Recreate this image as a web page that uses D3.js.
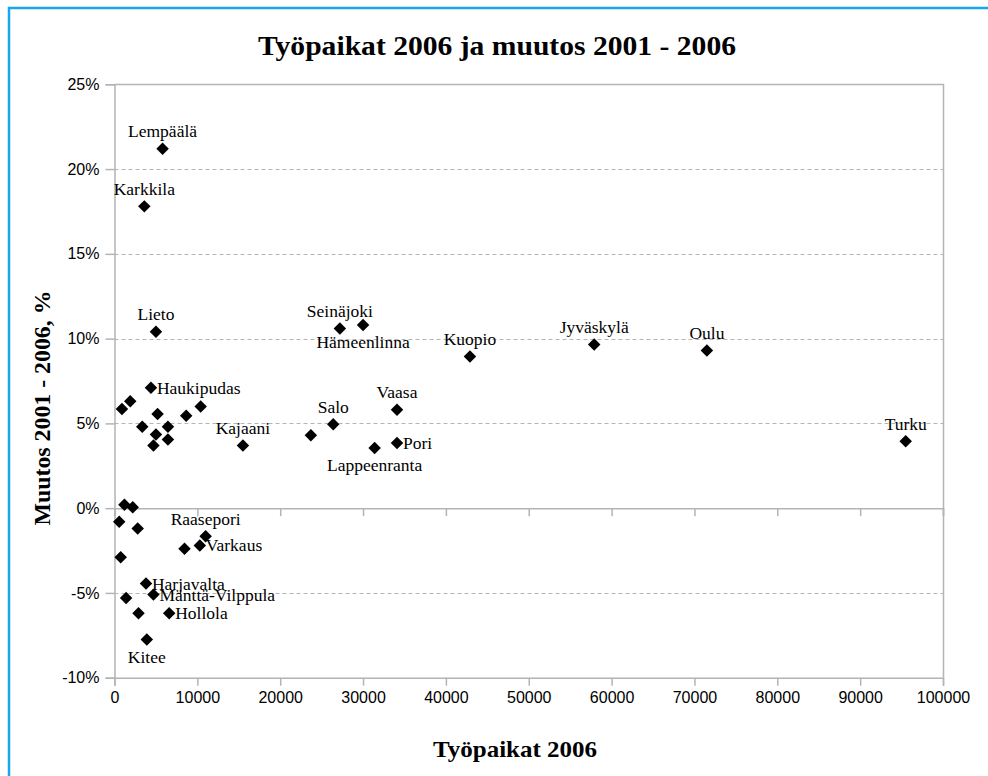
<!DOCTYPE html>
<html>
<head>
<meta charset="utf-8">
<script src="https://cdn.jsdelivr.net/npm/d3@7"></script>
<style>
  body { margin: 0; background: #fff; }
  .tick-label { font-family: "Liberation Sans", Arial, sans-serif; font-size: 16px; fill: #000; }
  .pt-label { font-family: "Liberation Serif", "Times New Roman", serif; font-size: 17.5px; fill: #000; }
  .ttl { font-family: "Liberation Serif", "Times New Roman", serif; font-weight: bold; fill: #000; }
</style>
</head>
<body>
<script>
var w = 988, h = 776;

// municipalities, jobs in 2006 and change 2001-2006 (%)
var names = ["Lempäälä", "Karkkila", "Lieto", "Seinäjoki", "Hämeenlinna", "Kuopio", "Jyväskylä", "Oulu",
  "Haukipudas", "Vaasa", "Salo", "Kajaani", "Pori", "Lappeenranta", "Turku",
  "Raasepori", "Varkaus", "Harjavalta", "Mänttä-Vilppula", "Hollola", "Kitee",
  "", "", "", "", "", "", "", "", "", "", "",
  "", "", "", "", "", "", "", ""];
var jobs = [5800, 3600, 5000, 27200, 30000, 42900, 57900, 71500,
  4400, 34100, 26400, 15500, 34100, 31400, 95500,
  11000, 10300, 3800, 4700, 6600, 3900,
  900, 1900, 5200, 3350, 6450, 5000, 6450, 4700, 8650, 10400, 23700,
  1200, 2200, 570, 2800, 8450, 750, 1400, 2900];
var change = [21.2, 17.8, 10.4, 10.6, 10.8, 8.95, 9.65, 9.3,
  7.1, 5.8, 4.95, 3.7, 3.85, 3.55, 3.95,
  -1.65, -2.2, -4.45, -5.1, -6.2, -7.75,
  5.85, 6.3, 5.55, 4.8, 4.8, 4.35, 4.05, 3.7, 5.45, 6.0, 4.3,
  0.2, 0.05, -0.8, -1.2, -2.4, -2.9, -5.3, -6.2];

var xTicks = [0, 10000, 20000, 30000, 40000, 50000, 60000, 70000, 80000, 90000, 100000];
var yTicks = [-10, -5, 0, 5, 10, 15, 20, 25];

// where each label sits relative to its point
var labelPos = {
  "Hämeenlinna": "below", "Lappeenranta": "below", "Kitee": "below",
  "Haukipudas": "right", "Pori": "right", "Varkaus": "right",
  "Harjavalta": "right", "Mänttä-Vilppula": "right", "Hollola": "right"
};

var data = names.map(function(n, i) {
  return { name: n, jobs: jobs[i], change: change[i] };
});

var svg = d3.select("body")
  .append("svg")
  .attr("width", w)
  .attr("height", h);

// blue frame
svg.append("rect")
  .attr("x", 9)
  .attr("y", 8)
  .attr("width", 1000)
  .attr("height", 800)
  .style("fill", "none")
  .style("stroke", "#19a7ec")
  .style("stroke-width", 2.5);

var x = d3.scaleLinear()
  .domain([0, 100000])
  .range([114.5, 943]);

var y = d3.scaleLinear()
  .domain([-10, 25])
  .range([677.7, 84.3]);

var grey = "#b4b4b4";

// dashed gridlines
svg.selectAll(".grid")
  .data(yTicks.filter(function(d) { return d != -10 && d != 0 && d != 25; }))
  .enter()
  .append("line")
  .attr("class", "grid")
  .attr("x1", x(0))
  .attr("x2", x(100000))
  .attr("y1", function(d) { return Math.round(y(d)) + 0.5; })
  .attr("y2", function(d) { return Math.round(y(d)) + 0.5; })
  .style("stroke", grey)
  .style("stroke-dasharray", "4,3");

// plot frame: top and right
svg.append("path")
  .attr("d", "M" + x(0) + "," + (Math.round(y(25)) + 0.5) + "H" + (Math.round(x(100000)) + 0.5) + "V" + y(-10))
  .style("fill", "none")
  .style("stroke", grey)
  .style("stroke-width", 1.5);

// left axis
var yAxis = d3.axisLeft(y)
  .tickValues(yTicks)
  .tickSize(9)
  .tickPadding(6)
  .tickFormat(function(d) { return d + "%"; });

var gy = svg.append("g")
  .attr("transform", "translate(" + x(0) + ",0)")
  .call(yAxis);
gy.select(".domain").style("stroke", grey).style("stroke-width", 1.5);
gy.selectAll(".tick line").style("stroke", grey).style("stroke-width", 1.5);
gy.selectAll(".tick text")
  .attr("class", "tick-label")
  .attr("font-family", null)
  .attr("font-size", null);

// x axis at 0% (ticks only) and at the bottom (ticks + labels)
var xAxisZero = d3.axisBottom(x)
  .tickValues(xTicks)
  .tickSize(8)
  .tickFormat("");

var gz = svg.append("g")
  .attr("transform", "translate(0," + y(0) + ")")
  .call(xAxisZero);
gz.select(".domain").style("stroke", grey).style("stroke-width", 1.5);
gz.selectAll(".tick line").style("stroke", grey).style("stroke-width", 1.5);

var xAxis = d3.axisBottom(x)
  .tickValues(xTicks)
  .tickSize(8)
  .tickPadding(6)
  .tickFormat(d3.format("d"));

var gx = svg.append("g")
  .attr("transform", "translate(0," + y(-10) + ")")
  .call(xAxis);
gx.select(".domain").style("stroke", grey).style("stroke-width", 1.5);
gx.selectAll(".tick line").style("stroke", grey).style("stroke-width", 1.5);
gx.selectAll(".tick text")
  .attr("class", "tick-label")
  .attr("font-family", null)
  .attr("font-size", null);

// points
var diamond = d3.symbol().type(d3.symbolSquare).size(78);

svg.selectAll(".pt")
  .data(data)
  .enter()
  .append("path")
  .attr("class", "pt")
  .attr("d", diamond)
  .attr("transform", function(d) {
    return "translate(" + x(d.jobs) + "," + y(d.change) + ") rotate(45)";
  })
  .style("fill", "#000");

// point labels
svg.selectAll(".pt-label")
  .data(data.filter(function(d) { return d.name != ""; }))
  .enter()
  .append("text")
  .attr("class", "pt-label")
  .attr("text-anchor", function(d) {
    return labelPos[d.name] == "right" ? "start" : "middle";
  })
  .attr("x", function(d) {
    return labelPos[d.name] == "right" ? x(d.jobs) + 6 : x(d.jobs);
  })
  .attr("y", function(d) {
    var p = labelPos[d.name];
    if (p == "below") return y(d.change) + 23;
    if (p == "right") return y(d.change) + 6;
    return y(d.change) - 11.5;
  })
  .text(function(d) { return d.name; });

// titles
svg.append("text")
  .attr("class", "ttl")
  .attr("x", 497)
  .attr("y", 55)
  .attr("text-anchor", "middle")
  .attr("font-size", 28)
  .attr("textLength", 478)
  .attr("lengthAdjust", "spacingAndGlyphs")
  .text("Työpaikat 2006 ja muutos 2001 - 2006");

svg.append("text")
  .attr("class", "ttl")
  .attr("x", 515)
  .attr("y", 757)
  .attr("text-anchor", "middle")
  .attr("font-size", 24)
  .attr("textLength", 164)
  .attr("lengthAdjust", "spacingAndGlyphs")
  .text("Työpaikat 2006");

svg.append("text")
  .attr("class", "ttl")
  .attr("transform", "translate(50,408) rotate(-90)")
  .attr("text-anchor", "middle")
  .attr("font-size", 23)
  .attr("textLength", 235)
  .attr("lengthAdjust", "spacingAndGlyphs")
  .text("Muutos 2001 - 2006, %");
</script>
</body>
</html>
